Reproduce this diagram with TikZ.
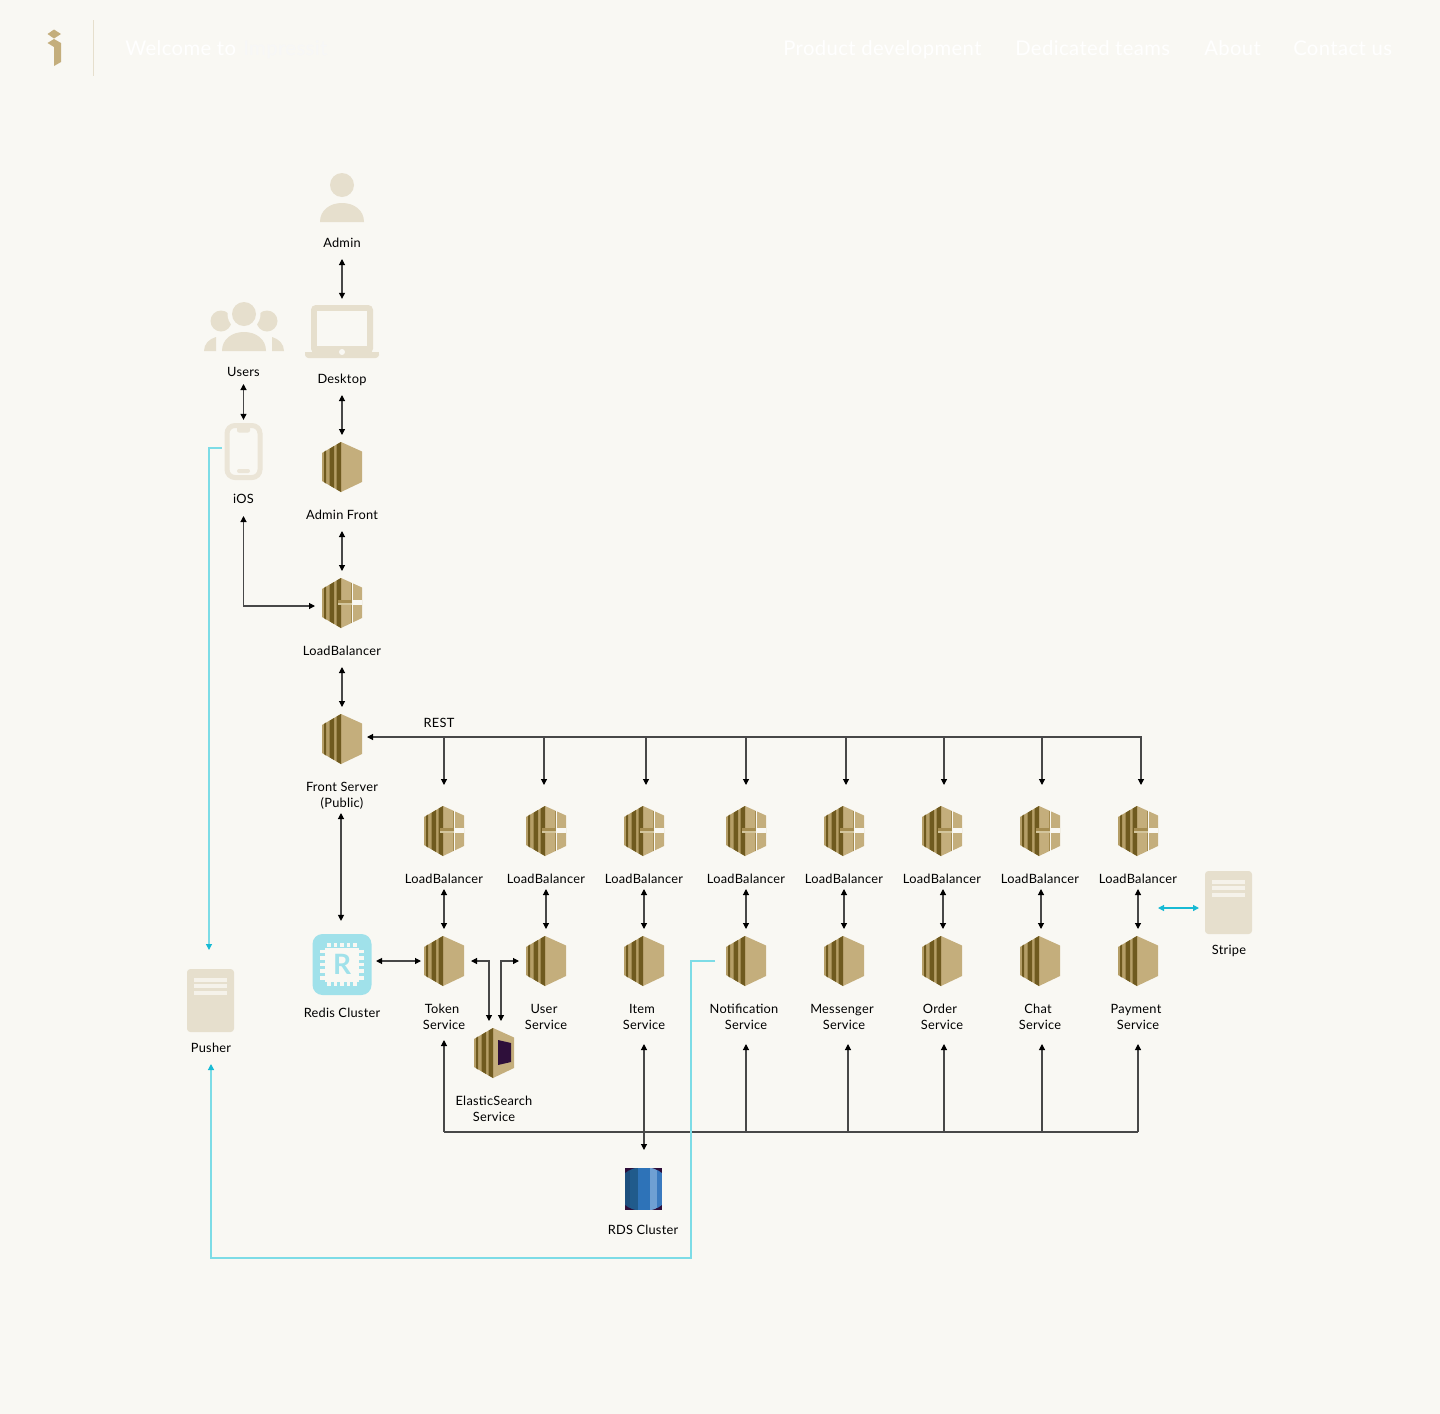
\documentclass[tikz,border=0pt]{standalone}
\usepackage{fontspec}
\setmainfont[LetterSpace=2]{Lato}
\usetikzlibrary{arrows.meta}

\definecolor{pagebg}{HTML}{F9F8F3}
\definecolor{hextan}{HTML}{C4AE7C}
\definecolor{hexside}{HTML}{B59E67}
\definecolor{hexmid}{HTML}{A58C50}
\definecolor{hexdark}{HTML}{6F5A1F}
\definecolor{hexlight}{HTML}{D3C59C}
\definecolor{iconc}{HTML}{E6DFCD}
\definecolor{phonec}{HTML}{EBE5D7}
\definecolor{barc}{HTML}{F5F2EA}
\definecolor{redisc}{HTML}{A0E1EA}
\definecolor{linec}{HTML}{7DDCE6}
\definecolor{cyanc}{HTML}{18BAD4}
\definecolor{wirec}{HTML}{484848}
\definecolor{plumc}{HTML}{2E0F3A}
\definecolor{rdsa}{HTML}{1D4F7E}
\definecolor{rdsb}{HTML}{205B8C}
\definecolor{rdsc}{HTML}{2E73B8}
\definecolor{rdsd}{HTML}{6FA0D3}
\definecolor{rdse}{HTML}{3A7ABF}

\tikzset{
ectwo/.pic={
\fill[hextan] (-1,-25) -- (20,-15.5) -- (20,15) -- (-1,25) -- cycle;
\fill[hexside] (-1,-25) -- (-1,25) -- (-20,14) -- (-20,-14) -- cycle;
\fill[hexdark] (-18,-15) -- (-16,-16.5) -- (-16,16.5) -- (-18,15) -- cycle;
\fill[hexdark] (-12.5,-18.2) -- (-8,-21) -- (-8,21) -- (-12.5,18.2) -- cycle;
\fill[hexdark] (-5.5,-22.4) -- (-1,-25) -- (-1,25) -- (-5.5,22.4) -- cycle;
},
lbhex/.pic={
\pic {ectwo};
\fill[hexmid] (8.5,-20) rectangle (9.5,-3);
\fill[hexmid] (8.5,2) rectangle (9.5,20);
\fill[pagebg] (9.5,-20) rectangle (11,20);
\fill[pagebg] (9.5,-3) rectangle (21,2);
\fill[hexmid] (-4,-3) rectangle (9.5,-0.5);
\fill[hexlight] (-4,-0.5) rectangle (9.5,2);
},
eshex/.pic={
\pic {ectwo};
\fill[plumc] (4,-13) -- (17,-10) -- (17,9) -- (4,12) -- cycle;
},
rdsdisc/.pic={
\fill[plumc] (-18.5,-21) rectangle (18.5,21);
\begin{scope}
\clip (0,0) ellipse [x radius=26.7,y radius=22.1];
\fill[rdsa] (-18.5,-21) rectangle (-14,21);
\fill[rdsb] (-14,-21) rectangle (-6,21);
\fill[rdsc] (-6,-21) rectangle (6,21);
\fill[rdsd] (6,-21) rectangle (13.5,21);
\fill[rdse] (13.5,-21) rectangle (18.5,21);
\end{scope}
},
redischip/.pic={
\fill[redisc,rounded corners=7.5pt] (-29.5,-30.5) rectangle (29.5,30.5);
\fill[pagebg] (-17,-17) rectangle (17,17);
\draw[pagebg,line width=3.4pt,dash pattern=on 2.7pt off 2.25pt] (-15,-19.5) -- (15,-19.5);
\draw[pagebg,line width=3.4pt,dash pattern=on 2.7pt off 2.25pt] (-15,19.5) -- (15,19.5);
\draw[pagebg,line width=3.4pt,dash pattern=on 2.7pt off 2.25pt] (-19.5,-15) -- (-19.5,15);
\draw[pagebg,line width=3.4pt,dash pattern=on 2.7pt off 2.25pt] (19.5,-15) -- (19.5,15);
},
srvdoc/.pic={
\fill[iconc,rounded corners=2.5pt] (-23.5,-31.5) rectangle (23.5,31.5);
\fill[barc] (-16.5,-22.5) rectangle (16.5,-18.5);
\fill[barc] (-16.5,-16.5) rectangle (16.5,-12.5);
\fill[barc] (-16.5,-9.5) rectangle (16.5,-5.5);
},
personic/.pic={
\fill[iconc] (0,-13) circle [radius=12];
\fill[iconc] (-22,24) .. controls (-22,12) and (-12,5) .. (0,5) .. controls (12,5) and (22,12) .. (22,24) -- cycle;
},
usersic/.pic={
\fill[iconc] (-23,-6) circle [radius=10.5];
\fill[iconc] (23,-6) circle [radius=10.5];
\fill[pagebg] (0,-13) circle [radius=16.5];
\fill[iconc] (0,-13) circle [radius=12];
\fill[iconc] (-22,24) .. controls (-22,12) and (-12,5) .. (0,5) .. controls (12,5) and (22,12) .. (22,24) -- cycle;
\fill[iconc] (-40,24) .. controls (-40,17) and (-35,12) .. (-28,10) -- (-28,24) -- cycle;
\fill[iconc] (40,24) .. controls (40,17) and (35,12) .. (28,10) -- (28,24) -- cycle;
},
laptopic/.pic={
\fill[iconc,rounded corners=3.5pt] (-31,-26.5) rectangle (31,22);
\fill[pagebg] (-25,-20.5) rectangle (25,14);
\fill[iconc,rounded corners=2.5pt] (-37,20.5) -- (37,20.5) -- (37,26.5) -- (-37,26.5) -- cycle;
\fill[iconc] (-37,20.5) rectangle (37,23);
\fill[pagebg] (0,20.5) circle [radius=3];
},
phoneic/.pic={
\draw[phonec,line width=3.75pt,rounded corners=6pt] (-16.5,-26) rectangle (16.5,26);
\fill[phonec,rounded corners=1.5pt] (-6.5,-25) rectangle (6.5,-19);
\fill[phonec,rounded corners=1.5pt] (-6.5,17.5) rectangle (6.5,21.5);
},
iconode/.style={inner sep=0pt,outer sep=5.25pt,minimum width=30pt,minimum height=37.5pt,path picture={\pic at (path picture bounding box.center) {#1};}},
lbltwo/.style={font=\fontsize{9.6pt}{12pt}\selectfont,text=black,align=center,inner sep=0pt,outer sep=0pt,minimum height=24pt},
lbl/.style={lbltwo,text height=7pt,text depth=0pt},
headtxt/.style={font=\fontsize{15.2pt}{18pt}\selectfont,anchor=west,inner sep=0pt,text height=11pt,text depth=0pt},
wire/.style={draw=wirec,line width=.85pt},
tip/.style={wire,-{Triangle[width=4.5pt,length=4.5pt,color=black]}},
both/.style={wire,{Triangle[width=4.5pt,length=4.5pt,color=black]}-{Triangle[width=4.5pt,length=4.5pt,color=black]}},
cyantip/.style={draw=linec,line width=.9pt,-{Triangle[width=4.5pt,length=4.5pt,color=cyanc]}},
cyanboth/.style={draw=cyanc,line width=.9pt,{Triangle[width=4.5pt,length=4.5pt]}-{Triangle[width=4.5pt,length=4.5pt]}},
}

\begin{document}
\begin{tikzpicture}[x=0.75pt,y=-0.75pt]
\fill[pagebg] (0,0) rectangle (1440,1414);
\useasboundingbox (0,0) rectangle (1440,1414);

% header
\fill[hextan] (47.5,34) -- (54,29.5) -- (61,34) -- (54,38.5) -- cycle;
\fill[hextan] (47.5,43) -- (54,39) -- (61,43) -- (61,62) -- (54,66) -- (54,47) -- cycle;
\draw[iconc] (93.5,20) -- (93.5,76);
\node[headtxt,text=white] (welcome) at (125,48) {Welcome to};
\node[headtxt,text=black!3] (brand) at (243,48) {Impressit};
\node[headtxt,text=white] (navprod) at (783,48) {Product development};
\node[headtxt,text=white] (navteams) at (1015,48) {Dedicated teams};
\node[headtxt,text=white] (navabout) at (1204,48) {About};
\node[headtxt,text=white] (navcontact) at (1293,48) {Contact us};

% left column
\node[iconode=personic,minimum width=33pt,minimum height=37.5pt] (admin) at (342,198) {};
\node[lbl] (adminlbl) at (342,243) {Admin};
\node[iconode=laptopic,minimum width=55.5pt,minimum height=40pt,outer sep=4.5pt] (desktop) at (342,331.5) {};
\node[lbl] (desktoplbl) at (342,379) {Desktop};
\node[iconode=usersic,minimum width=60pt,minimum height=37pt] (users) at (244,327) {};
\node[lbl,minimum height=18pt] (userslbl) at (243.5,372) {Users};
\node[iconode=phoneic,minimum width=28.5pt,minimum height=43pt,outer sep=2.25pt] (ios) at (243.5,451.5) {};
\node[lbl,minimum height=25.5pt] (ioslbl) at (243.5,499) {iOS};
\node[iconode=ectwo] (adminfront) at (342,467) {};
\node[lbl] (adminfrontlbl) at (342,515) {Admin Front};
\node[iconode=lbhex] (lbfront) at (342,603) {};
\node[lbl] (lbfrontlbl) at (342,651) {LoadBalancer};
\node[iconode=ectwo] (frontsrv) at (342,739) {};
\node[lbltwo,minimum height=25.5pt] (frontsrvlbl) at (342,796) {Front Server\\(Public)};
\node[iconode=redischip,minimum width=44.25pt,minimum height=45.75pt,outer sep=3.4pt] (redis) at (342,964.5) {\textcolor{redisc}{\fontsize{21pt}{21pt}\selectfont\bfseries R}};
\node[lbl] (redislbl) at (342,1013) {Redis Cluster};
\node[iconode=srvdoc,minimum width=35.25pt,minimum height=47.25pt] (pusher) at (210.5,1000.5) {};
\node[lbl] (pusherlbl) at (211,1048) {Pusher};

% load balancers
\node[iconode=lbhex] (lba) at (444,831) {};
\node[iconode=lbhex] (lbb) at (546,831) {};
\node[iconode=lbhex] (lbc) at (644,831) {};
\node[iconode=lbhex] (lbd) at (746,831) {};
\node[iconode=lbhex] (lbe) at (844,831) {};
\node[iconode=lbhex] (lbf) at (942,831) {};
\node[iconode=lbhex] (lbg) at (1040,831) {};
\node[iconode=lbhex] (lbh) at (1138,831) {};
\node[lbl,minimum height=15pt] (lbalbl) at (444,879) {LoadBalancer};
\node[lbl,minimum height=15pt] (lbblbl) at (546,879) {LoadBalancer};
\node[lbl,minimum height=15pt] (lbclbl) at (644,879) {LoadBalancer};
\node[lbl,minimum height=15pt] (lbdlbl) at (746,879) {LoadBalancer};
\node[lbl,minimum height=15pt] (lbelbl) at (844,879) {LoadBalancer};
\node[lbl,minimum height=15pt] (lbflbl) at (942,879) {LoadBalancer};
\node[lbl,minimum height=15pt] (lbglbl) at (1040,879) {LoadBalancer};
\node[lbl,minimum height=15pt] (lbhlbl) at (1138,879) {LoadBalancer};

% services
\node[iconode=ectwo] (token) at (444,961) {};
\node[iconode=ectwo] (usersvc) at (546,961) {};
\node[iconode=ectwo] (item) at (644,961) {};
\node[iconode=ectwo] (notif) at (746,961) {};
\node[iconode=ectwo] (msgr) at (844,961) {};
\node[iconode=ectwo] (order) at (942,961) {};
\node[iconode=ectwo] (chat) at (1040,961) {};
\node[iconode=ectwo] (payment) at (1138,961) {};
\node[lbltwo,minimum height=40.5pt] (tokenlbl) at (444,1017) {Token\hspace*{3pt}\\Service};
\node[lbltwo,minimum height=40.5pt] (usersvclbl) at (546,1017) {User\hspace*{3pt}\\Service};
\node[lbltwo,minimum height=40.5pt] (itemlbl) at (644,1017) {Item\hspace*{3pt}\\Service};
\node[lbltwo,minimum height=40.5pt] (notiflbl) at (746,1017) {Notification\hspace*{3pt}\\Service};
\node[lbltwo,minimum height=40.5pt] (msgrlbl) at (844,1017) {Messenger\hspace*{3pt}\\Service};
\node[lbltwo,minimum height=40.5pt] (orderlbl) at (942,1017) {Order\hspace*{3pt}\\Service};
\node[lbltwo,minimum height=40.5pt] (chatlbl) at (1040,1017) {Chat\hspace*{3pt}\\Service};
\node[lbltwo,minimum height=40.5pt] (paymentlbl) at (1138,1017) {Payment\hspace*{3pt}\\Service};

\node[iconode=eshex] (elastic) at (494,1053) {};
\node[lbltwo] (elasticlbl) at (494,1109) {ElasticSearch\\Service};
\node[iconode=rdsdisc,minimum width=27.75pt,minimum height=31.5pt] (rds) at (643.5,1189) {};
\node[lbl] (rdslbl) at (643,1230) {RDS Cluster};
\node[iconode=srvdoc,minimum width=35.25pt,minimum height=47.25pt,outer sep=4.5pt] (stripe) at (1228.5,902.5) {};
\node[lbl] (stripelbl) at (1229,950) {Stripe};
\node[lbl] (restlbl) at (439,723) {REST};

% free ends
\coordinate (restl) at (367,737);
\coordinate (restr) at (1141,785);
\coordinate (resta) at (444,737);
\coordinate (restb) at (544,737);
\coordinate (restc) at (646,737);
\coordinate (restd) at (746,737);
\coordinate (reste) at (846,737);
\coordinate (restf) at (944,737);
\coordinate (restg) at (1042,737);
\coordinate (busa) at (444,1132);
\coordinate (busd) at (746,1132);
\coordinate (buse) at (848,1132);
\coordinate (busf) at (944,1132);
\coordinate (busg) at (1042,1132);
\coordinate (bush) at (1138,1132);
\coordinate (pusherin) at (209,950);
\coordinate (notifout) at (715,961);
\coordinate (pushbus) at (691,1258);
\coordinate (stripein) at (1158,908);

% upper arrows
\draw[both] (adminlbl.south) -- (desktop.north);
\draw[both] (desktoplbl.south) -- (adminfront.north);
\draw[both] (userslbl.south) -- (ios.north);
\draw[both] (adminfrontlbl.south) -- (lbfront.north);
\draw[both] (ioslbl.south) |- ([yshift=-2.25pt]lbfront.west);
\draw[both] (lbfrontlbl.south) -- (frontsrv.north);
\draw[both] ([xshift=-.75pt]frontsrvlbl.south) -- ([xshift=-.75pt,yshift=6.4pt]redis.north);

% rest bus
\draw[both] (restl) -| (restr);
\draw[tip] (resta) -- (resta |- restr);
\draw[tip] (restb) -- (restb |- restr);
\draw[tip] (restc) -- (restc |- restr);
\draw[tip] (restd) -- (restd |- restr);
\draw[tip] (reste) -- (reste |- restr);
\draw[tip] (restf) -- (restf |- restr);
\draw[tip] (restg) -- (restg |- restr);

% lb to service
\draw[both] (lbalbl.south) -- (token.north);
\draw[both] (lbblbl.south) -- (usersvc.north);
\draw[both] (lbclbl.south) -- (item.north);
\draw[both] (lbdlbl.south) -- (notif.north);
\draw[both] (lbelbl.south) -- (msgr.north);
\draw[both] ([xshift=.75pt]lbflbl.south) -- ([xshift=.75pt]order.north);
\draw[both] ([xshift=.75pt]lbglbl.south) -- ([xshift=.75pt]chat.north);
\draw[both] (lbhlbl.south) -- (payment.north);

\draw[both] (redis.east |- token.west) -- ([xshift=3pt]token.west);
\draw[both] (token.east) -| ([xshift=-3.75pt]elastic.north);
\draw[both] (usersvc.west) -| ([xshift=5.25pt]elastic.north);

% db bus
\draw[wire] (busa) -- (bush);
\draw[tip] (busa) -- ([yshift=3pt]tokenlbl.south);
\draw[tip] (busd) -- (notiflbl.south);
\draw[tip] (buse) -- (buse |- msgrlbl.south);
\draw[tip] (busf) -- (busf |- orderlbl.south);
\draw[tip] (busg) -- (busg |- chatlbl.south);
\draw[tip] (bush) -- (paymentlbl.south);
\draw[both] (itemlbl.south) -- ([xshift=.375pt,yshift=8.25pt]rds.north);

% pusher, stripe
\draw[cyantip] ([yshift=2.6pt]ios.west) -| (pusherin);
\draw[cyantip] (notifout) -| (pushbus) -| (pusherlbl.south);
\draw[cyanboth] (stripein) -- (stripein -| stripe.west);

\end{tikzpicture}
\end{document}
